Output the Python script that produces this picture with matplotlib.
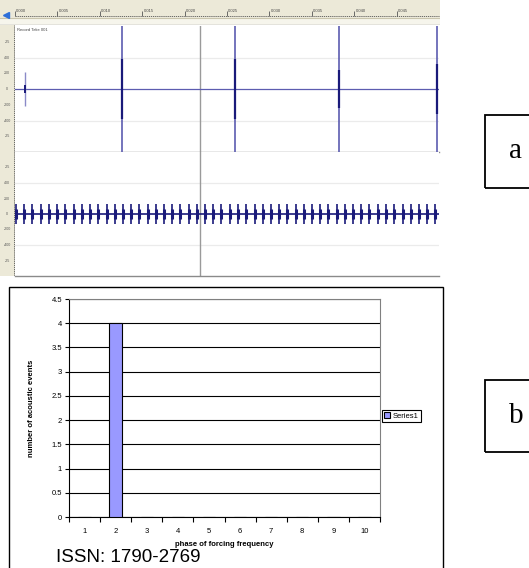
"""Two-panel figure: (a) recorded waveform view, (b) acoustic events per forcing phase."""
import matplotlib
matplotlib.use("Agg")
import matplotlib.pyplot as plt
from matplotlib.patches import Rectangle

W, H = 529, 568

# ── (a) waveform data (time in ruler units, amplitude normalised to +-1) ──
ruler_ticks = [0, 1, 2, 3, 4, 5, 6, 7, 8, 9]
ruler_labels = ["0.000", "0.005", "0.010", "0.015", "0.020",
                "0.025", "0.030", "0.035", "0.040", "0.045"]
level_ticks = [0.75, 0.5, 0.25, 0.0, -0.25, -0.5, -0.75]
level_labels = ["-25", "400", "200", "0", "-200", "-400", "-25"]

spike_times = [2.52, 5.19, 7.64, 9.95]
spike_core = [0.47, 0.47, 0.30, 0.40]
glitch_time = 0.24
glitch_amp = 0.27
cursor_time = 4.36

burst_times = [0.02, 0.22, 0.41, 0.61, 0.80, 0.99, 1.19, 1.38, 1.58, 1.77,
               1.96, 2.16, 2.35, 2.54, 2.74, 2.93, 3.13, 3.32, 3.51, 3.71,
               3.90, 4.10, 4.29, 4.48, 4.68, 4.87, 5.07, 5.26, 5.45, 5.65,
               5.84, 6.03, 6.23, 6.42, 6.62, 6.81, 7.00, 7.20, 7.39, 7.59,
               7.78, 7.97, 8.17, 8.36, 8.56, 8.75, 8.94, 9.14, 9.33, 9.53,
               9.72, 9.91]
burst_amp = 0.16

# ── (b) bar chart data ──
phases = [1, 2, 3, 4, 5, 6, 7, 8, 9, 10]
events = [0, 4, 0, 0, 0, 0, 0, 0, 0, 0]
y_ticks = [0, 0.5, 1, 1.5, 2, 2.5, 3, 3.5, 4, 4.5]

plt.rcParams["font.family"] = ["Liberation Sans", "DejaVu Sans"]

fig = plt.figure(figsize=(W / 100, H / 100), dpi=100)
fig.patch.set_facecolor("white")


def px_axes(x0, y0, x1, y1):
    return fig.add_axes([x0 / W, 1 - y1 / H, (x1 - x0) / W, (y1 - y0) / H])


def bare(ax):
    ax.set_xticks([])
    ax.set_yticks([])
    for s in ax.spines.values():
        s.set_visible(False)


NAVY = "#1a1a7a"
LIGHT = "#5c5cb0"
BEIGE = "#ece9d8"

# ── (a) ruler strips ──
ax_rt = px_axes(0, 0, 440, 25)
bare(ax_rt)
ax_rt.set_facecolor(BEIGE)
ax_rt.set_xlim(-15 / 42.4, 425 / 42.4)
ax_rt.set_ylim(25, 0)
ax_rt.axhspan(18, 25, color="#f6f5ec")
ax_rt.axhline(18, color="#c9c5ad", lw=0.8)
ax_rt.axhline(24.5, color="#9c9c9c", lw=1.0)
ax_rt.plot([0, 10], [16, 16], color="#555555", lw=0.6, ls=(0, (1.5, 1)))
for t, lab in zip(ruler_ticks, ruler_labels):
    ax_rt.vlines(t, 11, 16, color="#555555", lw=0.6)
    ax_rt.text(t + 0.03, 13.5, lab, fontsize=3, color="#444444", va="bottom", ha="left")
ax_rt.plot([-0.22], [15], marker="<", color="#2e6fd8", ms=4)

ax_lt = px_axes(0, 25, 15, 276)
bare(ax_lt)
ax_lt.set_facecolor(BEIGE)
ax_lt.set_xlim(0, 15)
ax_lt.set_ylim(0, 1)
ax_lt.axvline(14, color="#555555", lw=0.6, ls=(0, (1.5, 1)))

# ── (a) trace panels ──
ax_up = px_axes(15, 26, 439, 152)
ax_lo = px_axes(15, 152, 439, 276)
for ax in (ax_up, ax_lo):
    bare(ax)
    ax.set_xlim(0, 10)
    ax.set_ylim(-1, 1)
    for g in (-0.5, 0.5):
        ax.axhline(g, color="#ebebeb", lw=0.9, zorder=1)
    ax.axvline(cursor_time, color="#9a9a9a", lw=1.0, zorder=2)
    ax.spines["bottom"].set_visible(True)
    ax.spines["bottom"].set_color("#8a8a8a")
    ax.spines["bottom"].set_linewidth(1.0)

# level labels on the left ruler, beside each trace
for y0, y1 in ((26, 152), (152, 276)):
    for lv, lab in zip(level_ticks, level_labels):
        ypx = (y0 + y1) / 2 - lv * (y1 - y0) / 2
        fig.text(7 / W, 1 - ypx / H, lab, fontsize=2.6, color="#555555",
                 ha="center", va="center")

ax_up.text(0.05, 0.93, "Record Take 001", fontsize=3, color="#444444", va="center")
ax_up.axhline(0, color=LIGHT, lw=0.9, zorder=3)
ax_up.vlines(spike_times, -1, 1, color=LIGHT, lw=1.2, zorder=4)
ax_up.vlines(spike_times, [-a for a in spike_core], spike_core, color=NAVY, lw=1.6, zorder=5)
ax_up.vlines([glitch_time], -glitch_amp, glitch_amp, color="#8a8ac8", lw=1.0, zorder=4)
ax_up.vlines([glitch_time], -0.07, 0.07, color=NAVY, lw=1.4, zorder=5)

ax_lo.axhline(0, color=NAVY, lw=1.2, zorder=3)
ax_lo.vlines(burst_times, -burst_amp, burst_amp, color=NAVY, lw=1.2, zorder=4)
ax_lo.vlines(burst_times, -burst_amp * 0.55, burst_amp * 0.55, color=NAVY, lw=2.2, zorder=4)

# ── (b) bar chart ──
fig.add_artist(Rectangle((9 / W, 1 - 590 / H), 434 / W, 303 / H, transform=fig.transFigure,
                         fill=False, edgecolor="black", lw=1.0))

ax = px_axes(69, 299, 380, 517)
ax.bar(phases, events, width=0.4, color="#9999ff", edgecolor="black", lw=0.8,
       zorder=3, label="Series1")
ax.set_xlim(0.5, 10.5)
ax.set_ylim(0, 4.5)
ax.set_yticks(y_ticks)
ax.set_yticklabels([f"{v:g}" for v in y_ticks])
ax.set_xticks(phases)
category_edges = [p - 0.5 for p in phases] + [phases[-1] + 0.5]
ax.set_xticks(category_edges, minor=True)
ax.yaxis.grid(True, color="black", lw=0.8)
ax.set_axisbelow(True)
ax.tick_params(axis="y", direction="out", length=3, width=0.8, pad=2, labelsize=5.5)
ax.tick_params(axis="x", which="major", length=0, pad=8, labelsize=5.5)
ax.tick_params(axis="x", which="minor", direction="out", length=3.5, width=0.8)
for side in ("left", "bottom"):
    ax.spines[side].set_color("black")
    ax.spines[side].set_linewidth(0.8)
for side in ("top", "right"):
    ax.spines[side].set_color("#808080")
    ax.spines[side].set_linewidth(0.8)
ax.set_xlabel("phase of forcing frequency", fontsize=5.5, fontweight="bold", labelpad=4)
ax.set_ylabel("number of acoustic events", fontsize=5.5, fontweight="bold", labelpad=12)

ax.legend(loc="center left", bbox_to_anchor=(382 / W, 1 - 416 / H),
          bbox_transform=fig.transFigure, fontsize=5.5, frameon=True, fancybox=False,
          edgecolor="black", framealpha=1, borderpad=0.3, handlelength=0.7,
          handleheight=0.7, handletextpad=0.4, borderaxespad=0)
ax.get_legend().get_frame().set_linewidth(0.8)

fig.text(56 / W, 1 - 562 / H, "ISSN: 1790-2769", fontsize=13.5, ha="left", va="baseline")

# ── panel letters ──
for (x0, y0, x1, y1), letter in (((485, 115, 540, 188), "a"), ((485, 380, 540, 452), "b")):
    fig.add_artist(Rectangle((x0 / W, 1 - y1 / H), (x1 - x0) / W, (y1 - y0) / H,
                             transform=fig.transFigure, fill=False,
                             edgecolor="black", lw=1.3))
    fig.text(516 / W, 1 - ((y0 + y1) / 2) / H, letter, fontsize=21,
             family=["Liberation Serif", "DejaVu Serif"], ha="center", va="center")

fig.savefig("out.png", dpi=100)
